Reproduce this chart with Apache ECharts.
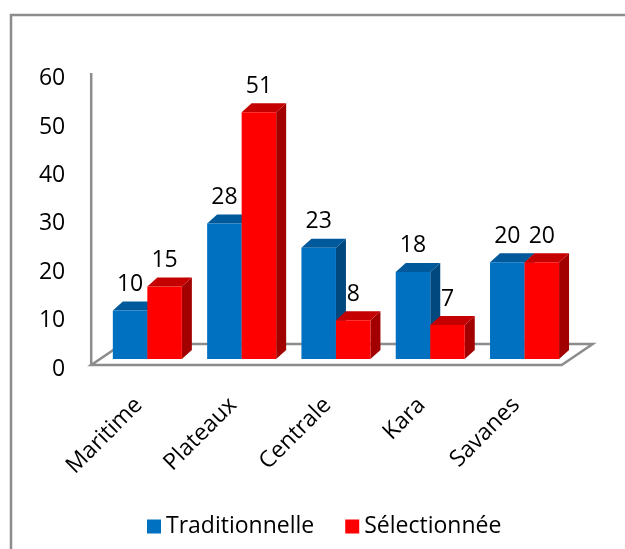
<!DOCTYPE html>
<html>
<head>
<meta charset="utf-8">
<script src="https://cdn.jsdelivr.net/npm/echarts@6/dist/echarts.min.js"></script>
<style>
  html, body { margin: 0; padding: 0; background: #fff; }
  #chart { width: 625px; height: 549px; }
</style>
</head>
<body>
<div id="chart"></div>
<script>
var regions = ['Maritime', 'Plateaux', 'Centrale', 'Kara', 'Savanes'];
var traditionnelle = [10, 28, 23, 18, 20];
var selectionnee = [15, 51, 8, 7, 20];
var yTicks = [0, 10, 20, 30, 40, 50, 60];

var FONT = '"Open Sans", sans-serif';
var FS = 23;
var DX = 10, DY = 9; // fake depth of the 3d bars

function toPairs(arr) {
    return arr.map(function (v, i) { return [i, v]; });
}

// 3d looking column: front face, top face, right side face, label on top
function barRenderer(front, top, side, leftOfCenter) {
    return function (params, api) {
        var cat = api.value(0);
        var val = api.value(1);
        var pTop = api.coord([cat, val]);
        var pBase = api.coord([cat, 0]);
        var band = api.size([1, 0])[0];
        var w = band * 0.366;
        var x0 = leftOfCenter ? pTop[0] - w : pTop[0];
        var x1 = x0 + w;
        var yt = pTop[1], yb = pBase[1];
        return {
            type: 'group',
            children: [{
                type: 'polygon',
                shape: { points: [[x1, yb], [x1 + DX, yb - DY], [x1 + DX, yt - DY], [x1, yt]] },
                style: { fill: side }
            }, {
                type: 'polygon',
                shape: { points: [[x0, yt], [x1, yt], [x1 + DX, yt - DY], [x0 + DX, yt - DY]] },
                style: { fill: top }
            }, {
                type: 'rect',
                shape: { x: x0, y: yt, width: w, height: yb - yt },
                style: { fill: front }
            }, {
                type: 'text',
                style: {
                    text: String(val),
                    x: (x0 + x1) / 2,
                    y: yt - 26,
                    align: 'center',
                    verticalAlign: 'middle',
                    font: FS + 'px ' + FONT,
                    fill: '#000'
                }
            }]
        };
    };
}

// floor plate + vertical axis line, drawn from the grid rectangle
function floorRenderer(params, api) {
    var cs = params.coordSys;
    var bottom = cs.y + cs.height;
    var fl = cs.x - 9, fr = cs.x + cs.width - 10;
    var fy = bottom + 6, by = bottom - 15, sx = 31;
    return {
        type: 'group',
        children: [{
            type: 'polygon',
            shape: { points: [[fl, fy], [fr, fy], [fr + sx, by], [fl + sx, by]] },
            style: { fill: '#fff', stroke: '#8c8c8c', lineWidth: 2.5 }
        }, {
            type: 'polyline',
            shape: { points: [[fl, cs.y + 4.5], [fl, fy]] },
            style: { stroke: '#8c8c8c', lineWidth: 2.5, fill: null }
        }]
    };
}

var chart = echarts.init(document.getElementById('chart'));
chart.setOption({
    backgroundColor: '#fff',
    animation: false,
    textStyle: { fontFamily: FONT },
    graphic: [{
        type: 'polyline',
        shape: { points: [[11, 549], [11, 15], [625, 15]] },
        style: { stroke: '#8c8c8c', lineWidth: 2.5, fill: null }
    }],
    grid: { left: 100.2, right: 53.3, top: 68.6, bottom: 190 },
    legend: {
        left: 142,
        top: 510,
        icon: 'rect',
        itemWidth: 14,
        itemHeight: 14,
        itemGap: 31,
        itemStyle: { borderWidth: 0 },
        textStyle: { fontSize: FS, color: '#000', fontFamily: FONT },
        data: ['Traditionnelle', 'Sélectionnée']
    },
    xAxis: {
        type: 'category',
        data: regions,
        axisLine: { show: false },
        axisTick: { show: false },
        axisLabel: {
            rotate: 45,
            margin: 34,
            interval: 0,
            formatter: '{a|{value}}',
            rich: {
                a: { fontSize: FS, color: '#000', fontFamily: FONT, padding: [0, 12, 0, 0] }
            }
        }
    },
    yAxis: {
        type: 'value',
        min: yTicks[0],
        max: yTicks[yTicks.length - 1],
        interval: 10,
        axisLine: { show: false },
        axisTick: { show: false },
        splitLine: { show: false },
        axisLabel: {
            margin: 35,
            formatter: '{a|{value}}',
            rich: {
                a: { fontSize: FS, color: '#000', fontFamily: FONT, padding: [20, 0, 0, 0] }
            }
        }
    },
    series: [{
        type: 'custom',
        name: 'floor',
        silent: true,
        renderItem: floorRenderer,
        data: [[0, 0]],
        encode: { x: 0, y: 1 }
    }, {
        type: 'custom',
        name: 'Traditionnelle',
        itemStyle: { color: '#0070C0' },
        renderItem: barRenderer('#0070C0', '#00599A', '#00487E', true),
        data: toPairs(traditionnelle),
        encode: { x: 0, y: 1 }
    }, {
        type: 'custom',
        name: 'Sélectionnée',
        itemStyle: { color: '#FF0000' },
        renderItem: barRenderer('#FF0000', '#C40000', '#A20000', false),
        data: toPairs(selectionnee),
        encode: { x: 0, y: 1 }
    }]
});
</script>
</body>
</html>
